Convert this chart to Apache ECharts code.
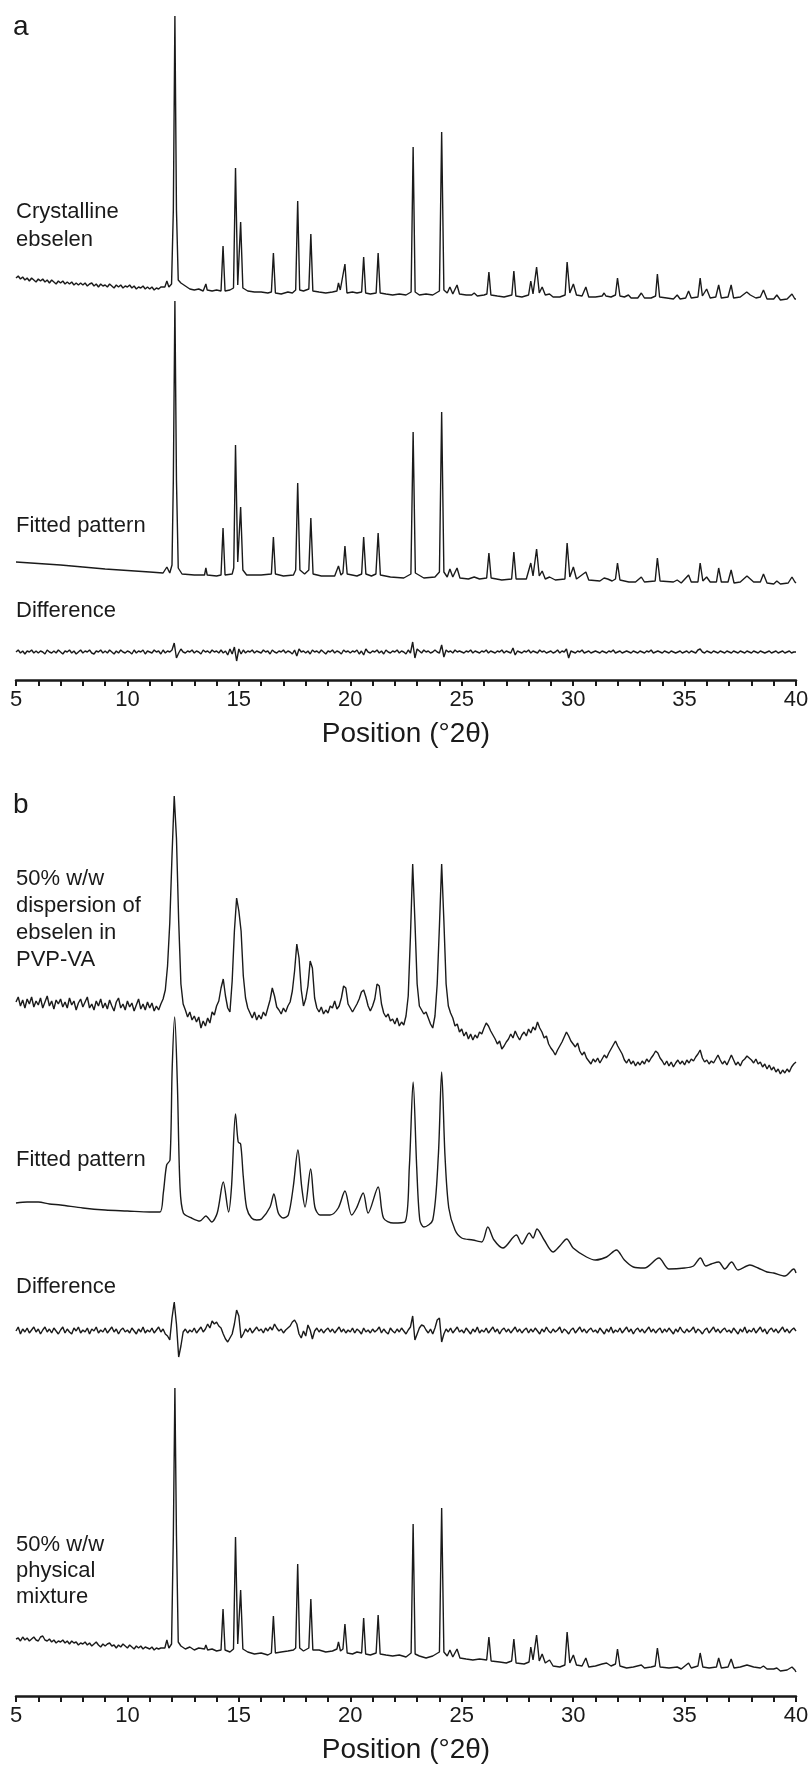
<!DOCTYPE html>
<html>
<head>
<meta charset="utf-8">
<script src="https://cdn.jsdelivr.net/npm/echarts@6/dist/echarts.min.js"></script>
<style>
html,body{margin:0;padding:0;background:#fff;}
#chart{width:812px;height:1765px;}
</style>
</head>
<body>
<div id="chart"></div>
<script>
// ---------- DATA (intensities in arbitrary units, stacked as displayed) ----------
const xTicks = [5, 10, 15, 20, 25, 30, 35, 40];
const xTitle = 'Position (°2θ)';

// Panel a -- crystalline ebselen: low-angle background sampled every 0.1 deg from 5, then peaks
const crystallineStep = 0.1;
const crystallineStart = [402,404,401,403,400,402,399,402,400,398, 401,399,401,398,400,397,400,398,396,399, 397,399,396,398,396,398,395,397,395,397, 395,397,394,396,397,394,396,393,396,394, 395,393,396,394,392,395,393,395,392,394, 393,395,392,394,391,393,392,394,391,393, 391,393,390,392,391,393];
const crystallinePeaks = [[11.68,393],[11.77,399],[11.86,393],[11.98,396],[12.06,470],[12.13,664],[12.2,470],[12.28,400],[12.4,397],[12.6,394],[12.8,391],[13.0,390],[13.2,391],[13.4,389],[13.46,390],[13.52,396],[13.58,390],[13.8,389],[14.0,390],[14.2,389],[14.29,434],[14.38,389],[14.6,390],[14.76,392],[14.85,512],[14.95,395],[15.08,458],[15.18,392],[15.4,389],[15.7,388],[16.0,388],[16.3,387],[16.46,388],[16.55,427],[16.64,387],[16.9,386],[17.2,388],[17.4,387],[17.55,390],[17.64,479],[17.73,390],[17.9,389],[18.14,391],[18.23,446],[18.32,389],[18.6,388],[18.9,387],[19.2,388],[19.4,389],[19.47,397],[19.55,390],[19.76,416],[19.85,387],[20.1,388],[20.3,387],[20.51,388],[20.6,423],[20.69,387],[20.9,386],[21.16,387],[21.25,427],[21.34,387],[21.6,386],[21.9,385],[22.2,386],[22.5,385],[22.73,388],[22.82,533],[22.91,388],[23.1,385],[23.4,386],[23.7,385],[24.0,389],[24.1,548],[24.2,390],[24.35,387],[24.47,393],[24.6,386],[24.79,395],[24.9,386],[25.2,385],[25.45,385],[25.56,387],[25.7,384],[26.0,385],[26.13,386],[26.22,408],[26.31,385],[26.6,384],[26.9,383],[27.25,385],[27.34,409],[27.43,384],[27.7,383],[28.0,385],[28.1,399],[28.2,386],[28.36,413],[28.48,387],[28.61,393],[28.75,385],[28.94,386],[29.1,383],[29.4,383],[29.64,385],[29.73,418],[29.85,387],[30.01,396],[30.15,385],[30.4,384],[30.57,393],[30.7,383],[31.0,383],[31.3,384],[31.39,387],[31.47,384],[31.55,386],[31.7,383],[31.9,385],[31.99,402],[32.1,384],[32.3,383],[32.48,385],[32.6,382],[32.9,382],[33.06,387],[33.2,382],[33.5,382],[33.7,384],[33.78,406],[33.88,383],[34.2,382],[34.5,381],[34.67,385],[34.8,381],[35.05,382],[35.18,389],[35.3,382],[35.6,383],[35.7,402],[35.8,384],[35.99,391],[36.15,382],[36.4,383],[36.53,395],[36.65,382],[36.95,383],[37.09,395],[37.2,382],[37.5,383],[37.79,388],[37.95,385],[38.2,382],[38.4,383],[38.54,390],[38.7,381],[39.0,381],[39.14,385],[39.3,380],[39.6,381],[39.82,386],[39.95,381],[40.0,381]];

const fittedA = [[5.0,118],[6.0,116.5],[7.0,115],[8.0,113],[9.0,111],[10.0,109.5],[11.0,108],[11.6,107],[11.77,113],[11.9,107],[12.0,115],[12.06,200],[12.13,379],[12.2,200],[12.28,112],[12.45,106],[13.0,105],[13.46,105],[13.52,112],[13.58,105],[14.0,104],[14.2,105],[14.29,152],[14.38,105],[14.7,106],[14.77,112],[14.85,235],[14.95,118],[15.08,173],[15.18,110],[15.35,105],[16.0,105],[16.46,106],[16.55,143],[16.64,106],[17.0,104],[17.45,105],[17.55,110],[17.64,197],[17.74,110],[17.95,106],[18.14,110],[18.23,162],[18.33,106],[18.7,104],[19.3,104],[19.47,114],[19.58,105],[19.67,107],[19.76,134],[19.86,106],[20.3,104],[20.51,106],[20.6,143],[20.7,106],[20.95,104],[21.15,106],[21.25,147],[21.35,105],[21.8,103],[22.4,102],[22.72,106],[22.82,248],[22.92,107],[23.3,102],[23.8,103],[24.0,108],[24.1,268],[24.2,108],[24.35,103],[24.47,111],[24.6,103],[24.79,112],[24.92,102],[25.3,101],[25.56,103],[25.8,101],[26.12,102],[26.22,127],[26.32,102],[26.8,100],[27.24,101],[27.34,128],[27.44,101],[27.9,101],[28.1,117],[28.2,104],[28.36,131],[28.48,104],[28.61,109],[28.75,101],[28.94,103],[29.2,100],[29.63,101],[29.73,137],[29.85,103],[30.01,113],[30.15,101],[30.57,108],[30.7,100],[31.2,99],[31.39,102],[31.47,100],[31.55,101],[31.75,99],[31.9,101],[31.99,117],[32.1,100],[32.5,98],[32.8,98],[33.06,103],[33.2,98],[33.68,99],[33.78,122],[33.9,99],[34.5,98],[34.67,100],[34.85,97],[35.18,105],[35.3,98],[35.6,98],[35.7,117],[35.82,99],[35.99,103],[36.15,98],[36.43,98],[36.53,112],[36.65,98],[36.95,98],[37.09,110],[37.22,97],[37.5,98],[37.8,104],[38.1,98],[38.4,98],[38.54,106],[38.7,97],[39.0,96],[39.14,99],[39.3,96],[39.65,97],[39.82,103],[39.95,98],[40.0,97]];

// difference a: sampled every 0.1 deg from 5
const diffAStep = 0.1;
const differenceA = [
28,30,27,29,26,29,28,30,27,29,
27,29,28,26,30,28,27,29,27,30,
28,26,29,28,30,27,29,26,28,30,
27,29,28,30,27,26,29,28,30,27,
29,27,30,28,26,29,27,30,28,27,
29,28,26,30,27,29,28,30,26,29,
28,27,30,28,29,26,30,27,29,28,
30,37,22,27,31,28,27,29,28,30,
27,29,28,26,30,28,29,27,30,28,
29,27,30,27,29,25,31,26,33,19,
31,26,30,27,29,28,30,27,29,28,
27,30,28,29,26,30,28,27,29,28,
30,27,29,28,26,30,24,31,28,29,
27,29,26,30,28,29,27,30,28,26,
29,28,30,27,29,28,26,30,28,29,
27,29,28,30,26,29,25,31,28,27,
29,28,30,27,29,26,30,28,27,29,
28,30,27,29,28,26,30,27,38,22,
31,29,27,30,28,29,27,28,30,28,
27,35,23,30,28,29,27,30,28,29,
28,27,29,28,30,27,29,28,27,29,
28,30,27,29,28,27,29,28,30,27,
29,28,27,32,25,29,28,27,29,28,
30,27,29,28,27,30,28,29,27,28,
29,27,28,30,27,29,28,31,22,29,
28,27,29,28,30,27,28,29,27,28,
29,28,27,29,28,27,29,28,30,27,
28,29,27,28,29,28,27,29,28,27,
29,28,27,29,28,30,27,28,29,28,
27,29,28,27,29,28,27,28,29,27,
28,29,27,29,28,27,30,31,28,27,
29,28,27,29,28,27,29,28,27,29,
28,27,29,28,27,29,28,27,29,28,
27,29,28,27,29,28,27,28,29,27,
28,29,27,28,29,27,28,29,27,28,
28];

// Panel b -- dispersion: sampled every 0.1 deg from 5
const dispStep = 0.1;
const dispersion = [
694,699,690,696,688,697,692,699,689,695,
691,698,688,694,700,690,695,687,696,692,
697,689,694,688,698,691,695,686,693,697,
689,694,699,688,692,686,695,690,697,688,
693,687,696,690,685,694,698,688,692,686,
695,689,693,685,691,697,687,692,686,694,
688,693,685,690,686,692,697,706,730,773,
840,900,858,775,712,692,686,679,684,676,
680,674,679,668,675,670,678,673,684,681,
690,695,708,717,700,688,684,715,765,798,
785,765,720,698,688,683,678,684,676,681,
677,684,680,688,696,708,700,689,686,682,
688,684,690,694,705,725,752,738,706,690,
697,710,735,728,698,688,684,689,682,686,
683,690,688,695,687,690,698,710,708,692,
688,684,688,692,697,704,706,699,690,685,
690,697,712,710,692,683,679,682,675,677,
672,678,670,674,671,680,700,760,832,775,
712,690,686,682,684,678,672,668,680,712,
770,832,775,712,690,683,678,670,672,664,
667,660,664,657,662,656,661,658,664,662,
668,673,670,665,661,657,652,655,647,650,
654,657,662,658,665,660,656,661,664,660,
667,663,669,666,674,668,664,658,660,652,
648,645,641,646,650,654,659,664,660,655,
652,649,653,645,641,644,638,635,632,637,
634,638,633,637,641,638,643,647,651,655,
650,646,642,636,633,637,632,635,630,634,
631,635,632,637,634,638,641,645,643,638,
635,631,635,630,634,629,633,636,632,635,
631,636,633,637,635,639,642,646,638,634,
636,632,635,633,637,641,636,632,635,631,
636,641,636,631,634,630,635,637,640,638,
636,633,637,632,634,629,632,627,631,626,
629,624,627,622,626,623,627,624,629,632,
634];

const fittedB = [[5.0,493],[5.5,494],[6.0,494],[6.5,492],[7.0,491],[8.0,488],[9.0,486],[10.0,485],[11.0,484],[11.46,484],[11.61,503],[11.76,531],[11.91,536],[12.01,629],[12.12,679],[12.24,613],[12.36,509],[12.51,483],[12.88,478],[13.25,475],[13.52,480],[13.78,474],[14.03,483],[14.3,514],[14.54,484],[14.67,509],[14.85,582],[14.97,554],[15.08,552],[15.2,519],[15.35,488],[15.57,478],[15.8,476],[16.02,477],[16.4,489],[16.57,502],[16.77,483],[16.99,478],[17.22,481],[17.44,509],[17.65,546],[17.82,509],[17.97,489],[18.22,527],[18.41,489],[18.64,481],[19.09,481],[19.46,488],[19.76,505],[20.06,481],[20.28,488],[20.58,503],[20.8,483],[21.25,509],[21.49,478],[21.93,473],[22.45,474],[22.65,529],[22.82,614],[22.98,529],[23.12,476],[23.3,469],[23.7,476],[23.95,540],[24.1,624],[24.25,540],[24.42,488],[24.7,466],[25.0,458],[25.5,456],[25.9,454],[26.17,469],[26.45,456],[26.85,448],[27.45,461],[27.7,452],[28.03,463],[28.2,458],[28.38,467],[28.7,456],[29.1,444],[29.4,450],[29.71,457],[30.0,448],[30.6,439],[31.0,436],[31.5,439],[31.94,446],[32.3,436],[32.7,429],[33.2,428],[33.85,438],[34.3,427],[35.0,428],[35.4,430],[35.71,438],[35.95,430],[36.2,432],[36.53,434],[36.8,427],[37.11,434],[37.4,426],[37.93,431],[38.3,428],[38.7,424],[39.0,423],[39.5,420],[39.9,427],[40.0,423]];

// difference b: sampled every 0.1 deg from 5
const diffBStep = 0.1;
const differenceB = [
365,369,362,367,364,368,363,366,369,364,
367,362,366,369,364,367,363,368,365,362,
366,369,363,367,364,362,368,365,369,363,
366,364,368,362,367,365,369,363,366,364,
368,363,366,369,364,367,362,366,368,364,
366,363,368,365,362,367,364,369,363,366,
364,368,363,366,369,364,367,362,360,356,
378,394,372,339,350,364,367,363,366,364,
368,363,366,369,364,367,372,368,375,372,
374,370,368,362,357,354,358,362,372,386,
380,358,362,367,364,368,363,366,369,365,
367,363,368,365,369,366,372,368,365,367,
363,366,368,370,374,376,372,362,358,365,
360,371,366,357,365,368,364,367,363,366,
368,364,367,363,366,369,364,367,363,366,
364,368,363,367,365,362,368,364,366,363,
367,364,366,369,363,367,364,362,368,365,
363,367,364,368,365,362,366,369,380,356,
362,368,371,370,366,363,367,362,368,376,
378,354,362,367,364,368,363,366,369,364,
366,363,368,365,362,367,364,369,363,366,
364,368,363,366,369,364,367,362,366,368,
364,367,363,366,369,364,367,363,366,368,
363,367,364,368,365,362,367,364,369,365,
363,367,364,366,369,363,367,365,362,366,
368,363,366,369,364,367,363,366,368,364,
366,363,368,365,362,367,364,369,363,366,
364,368,363,366,369,364,367,362,366,368,
364,367,363,366,369,364,367,363,366,368,
363,367,364,368,365,362,367,364,369,365,
363,367,364,366,369,363,367,365,362,366,
368,363,366,369,364,367,363,366,368,364,
366,363,368,365,362,367,364,369,363,366,
364,368,363,366,369,364,367,362,366,368,
364,367,363,366,369,364,367,363,366,368,
365];

// physical mixture: low-angle background sampled every 0.1 deg from 5, then peaks
const physicalStep = 0.1;
const physicalStart = [57,58,55,59,56,58,55,57,59,56, 55,59,60,56,55,57,54,56,53,55, 54,56,53,55,52,55,53,54,51,53, 52,54,51,53,50,52,54,51,49,52, 50,52,53,50,51,48,51,49,52,50, 48,51,49,47,50,48,50,47,49,48, 47,49,46,48,47,48];
const physicalPeaks = [[11.68,48],[11.77,56],[11.86,48],[11.98,52],[12.06,160],[12.13,308],[12.2,160],[12.28,54],[12.4,50],[12.6,47],[12.8,49],[13.0,46],[13.2,48],[13.46,47],[13.52,51],[13.6,46],[13.8,47],[14.0,45],[14.2,46],[14.29,87],[14.38,46],[14.6,44],[14.76,47],[14.85,159],[14.95,52],[15.08,106],[15.18,47],[15.4,44],[15.7,42],[16.0,43],[16.3,41],[16.46,43],[16.55,80],[16.64,43],[16.9,44],[17.2,45],[17.45,46],[17.55,48],[17.64,132],[17.73,48],[17.9,45],[18.14,48],[18.23,97],[18.32,46],[18.6,46],[18.9,44],[19.2,45],[19.4,47],[19.47,54],[19.56,45],[19.67,47],[19.76,72],[19.86,43],[20.1,42],[20.3,44],[20.51,43],[20.6,78],[20.69,42],[20.9,41],[21.16,43],[21.25,81],[21.34,42],[21.6,41],[21.9,40],[22.2,41],[22.5,39],[22.73,43],[22.82,172],[22.91,42],[23.1,40],[23.4,38],[23.7,40],[24.0,44],[24.1,188],[24.2,44],[24.35,40],[24.47,46],[24.6,39],[24.79,47],[24.92,38],[25.2,37],[25.5,36],[25.8,37],[26.12,36],[26.22,59],[26.32,35],[26.7,34],[27.0,33],[27.24,35],[27.34,57],[27.44,33],[27.8,32],[28.02,34],[28.1,49],[28.2,36],[28.36,61],[28.48,35],[28.61,42],[28.75,33],[28.94,36],[29.1,30],[29.4,29],[29.63,31],[29.73,64],[29.85,33],[30.01,41],[30.15,31],[30.4,30],[30.57,38],[30.7,29],[31.0,30],[31.3,32],[31.5,33],[31.7,30],[31.9,32],[31.99,47],[32.1,30],[32.4,28],[32.7,29],[33.06,31],[33.2,28],[33.5,29],[33.68,30],[33.78,48],[33.9,29],[34.3,28],[34.67,29],[34.85,27],[35.18,33],[35.3,28],[35.6,30],[35.7,43],[35.82,29],[36.1,28],[36.43,29],[36.53,38],[36.65,28],[36.95,29],[37.09,37],[37.22,28],[37.5,29],[37.8,31],[38.1,29],[38.4,28],[38.54,30],[38.7,27],[39.0,27],[39.14,28],[39.3,25],[39.6,26],[39.82,29],[39.95,26],[40.0,24]];

// Text labels
const panelLetters = ['a', 'b'];
const labelsA = [['Crystalline', 'ebselen'], ['Fitted pattern'], ['Difference']];
const labelsB = [['50% w/w', 'dispersion of', 'ebselen in', 'PVP-VA'], ['Fitted pattern'], ['Difference'], ['50% w/w', 'physical', 'mixture']];

// ---------- CHART ----------
const FONT = '"Liberation Sans", Arial, Helvetica, sans-serif';
const INK = '#1a1a1a';
const X0 = xTicks[0], X1 = xTicks[xTicks.length - 1];

function stepped(arr, step) {
  return arr.map((v, i) => [+(X0 + i * step).toFixed(2), v]);
}

function xAxisFor(gi) {
  return {
    gridIndex: gi, type: 'value', min: X0, max: X1, interval: xTicks[1] - xTicks[0],
    axisLine: { show: true, onZero: false, lineStyle: { color: INK, width: 2.5 } },
    axisTick: { show: true, inside: false, length: 6, lineStyle: { color: INK, width: 2 } },
    minorTick: { show: true, splitNumber: 5, length: 6, lineStyle: { color: INK, width: 2 } },
    splitLine: { show: false },
    axisLabel: { fontSize: 22, color: INK, fontFamily: FONT, margin: 9 },
    name: xTitle, nameLocation: 'middle', nameGap: 40,
    nameTextStyle: { fontSize: 28, color: INK, fontFamily: FONT }
  };
}

function line(gi, data, extra) {
  return Object.assign({
    type: 'line', xAxisIndex: gi, yAxisIndex: gi, data: data,
    symbol: 'none', showSymbol: false, silent: true,
    lineStyle: { color: INK, width: 1.4 }, animation: false
  }, extra || {});
}

function txt(t, x, y, fs) {
  return { type: 'text', x: x, y: y, silent: true,
    style: { text: t, font: fs + 'px ' + FONT, fill: INK, align: 'left', verticalAlign: 'middle' } };
}

const graphics = [];
graphics.push(txt(panelLetters[0], 13, 27, 28));
graphics.push(txt(panelLetters[1], 13, 805, 28));
const labelYA = [[212, 240], [526], [611]];
labelsA.forEach((g, gi) => g.forEach((t, li) => graphics.push(txt(t, 16, labelYA[gi][li], 22))));
const labelYB = [[879, 906, 933, 960], [1160], [1287], [1545, 1571, 1597]];
labelsB.forEach((g, gi) => g.forEach((t, li) => graphics.push(txt(t, 16, labelYB[gi][li], 22))));

const chart = echarts.init(document.getElementById('chart'), null, { renderer: 'canvas' });
chart.setOption({
  animation: false,
  backgroundColor: '#ffffff',
  grid: [
    { left: 16, right: 16, top: 10, height: 670, outerBoundsMode: 'none' },
    { left: 16, right: 16, top: 780, height: 916, outerBoundsMode: 'none' }
  ],
  xAxis: [xAxisFor(0), xAxisFor(1)],
  yAxis: [
    { gridIndex: 0, type: 'value', min: 0, max: 670, show: false },
    { gridIndex: 1, type: 'value', min: 0, max: 916, show: false }
  ],
  series: [
    line(0, stepped(crystallineStart, crystallineStep).concat(crystallinePeaks)),
    line(0, fittedA),
    line(0, stepped(differenceA, diffAStep)),
    line(1, stepped(dispersion, dispStep)),
    line(1, fittedB, { smooth: 0.3 }),
    line(1, stepped(differenceB, diffBStep)),
    line(1, stepped(physicalStart, physicalStep).concat(physicalPeaks))
  ],
  graphic: graphics
});
</script>
</body>
</html>
